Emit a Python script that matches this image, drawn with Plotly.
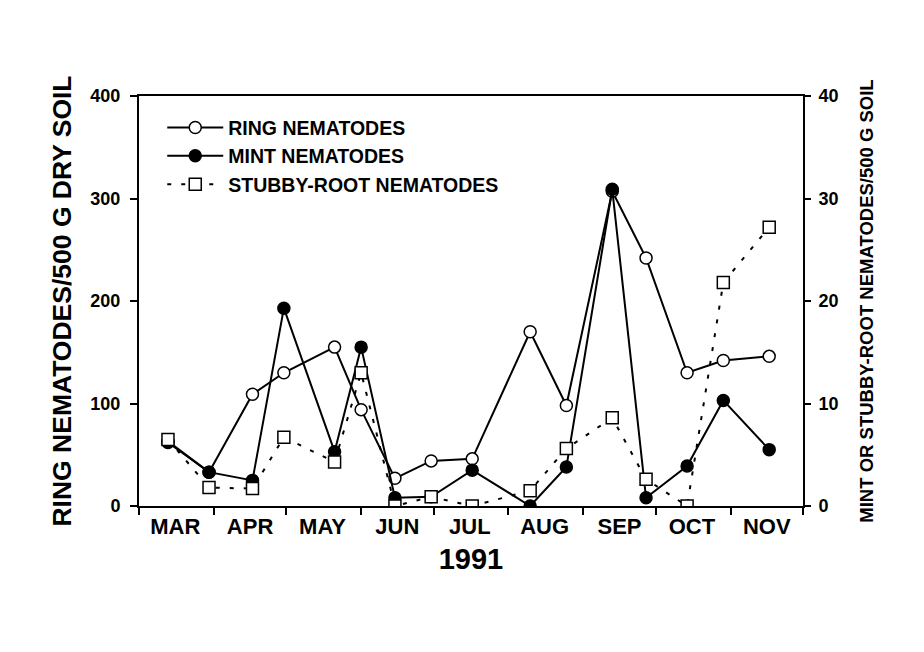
import plotly.graph_objects as go

dates = ["1991-03-13", "1991-03-30", "1991-04-17", "1991-04-30", "1991-05-21",
         "1991-06-01", "1991-06-15", "1991-06-30", "1991-07-17", "1991-08-10",
         "1991-08-25", "1991-09-13", "1991-09-27", "1991-10-14", "1991-10-29",
         "1991-11-17"]
ring = [63, 33, 109, 130, 155, 94, 27, 44, 46, 170, 98, 307, 242, 130, 142, 146]
mint = [6.2, 3.3, 2.5, 19.3, 5.3, 15.5, 0.8, 0.9, 3.5, 0.0, 3.8, 30.9, 0.8, 3.9, 10.3, 5.5]
stubby = [6.5, 1.8, 1.7, 6.7, 4.3, 13.0, 0.0, 0.9, 0.0, 1.5, 5.6, 8.6, 2.6, 0.0, 21.8, 27.2]

month_vals = ["1991-03-16", "1991-04-16", "1991-05-16", "1991-06-16", "1991-07-16",
              "1991-08-16", "1991-09-16", "1991-10-16", "1991-11-16"]
month_text = ["MAR", "APR", "MAY", "JUN", "JUL", "AUG", "SEP", "OCT", "NOV"]

FONT = "Liberation Sans"

fig = go.Figure()
fig.add_trace(go.Scatter(
    x=dates, y=ring, name="RING NEMATODES", mode="lines+markers",
    line=dict(color="black", width=2),
    marker=dict(symbol="circle", size=12, color="white", line=dict(color="black", width=1.5)),
))
fig.add_trace(go.Scatter(
    x=dates, y=mint, name="MINT NEMATODES", mode="lines+markers", yaxis="y2",
    line=dict(color="black", width=2),
    marker=dict(symbol="circle", size=12, color="black", line=dict(color="black", width=1.5)),
))
fig.add_trace(go.Scatter(
    x=dates, y=stubby, name="STUBBY-ROOT NEMATODES", mode="lines+markers", yaxis="y2",
    line=dict(color="black", width=2, dash="4px,10px"),
    marker=dict(symbol="square", size=12, color="white", line=dict(color="black", width=1.5)),
))

fig.update_layout(
    width=924, height=652,
    margin=dict(l=131, r=129, t=88, b=154),
    paper_bgcolor="white", plot_bgcolor="white",
    font=dict(family=FONT, color="black"),
    showlegend=True,
    legend=dict(
        x=0.035, y=0.97, xanchor="left", yanchor="top",
        bgcolor="rgba(0,0,0,0)", borderwidth=0,
        font=dict(family=FONT, size=19.5, color="black", weight="bold"),
        itemwidth=56, tracegroupgap=0,
    ),
    xaxis=dict(
        type="date", range=["1991-03-01", "1991-12-01"],
        tickvals=month_vals, ticktext=month_text, ticks="",
        tickfont=dict(family=FONT, size=22, color="black", weight="bold"),
        minor=dict(dtick="M1", tick0="1991-03-01", ticks="outside", ticklen=7,
                   tickwidth=2, tickcolor="black", showgrid=False),
        showline=True, linecolor="black", linewidth=2, mirror=True,
        showgrid=False, zeroline=False,
        title=dict(text="1991", standoff=10,
                   font=dict(family=FONT, size=29, color="black", weight="bold")),
    ),
    yaxis=dict(
        range=[0, 400], tickvals=[0, 100, 200, 300, 400],
        ticks="outside", ticklen=7, tickwidth=2, tickcolor="black",
        ticklabelstandoff=6,
        tickfont=dict(family=FONT, size=18, color="black", weight="bold"),
        showline=True, linecolor="black", linewidth=2,
        showgrid=False, zeroline=False,
        title=dict(text="RING NEMATODES/500 G DRY SOIL", standoff=11,
                   font=dict(family=FONT, size=26.5, color="black", weight="bold")),
    ),
    yaxis2=dict(
        range=[0, 40], tickvals=[0, 10, 20, 30, 40], overlaying="y", side="right",
        ticks="outside", ticklen=6, tickwidth=2, tickcolor="black",
        ticklabelstandoff=4,
        tickfont=dict(family=FONT, size=18, color="black", weight="bold"),
        showline=True, linecolor="black", linewidth=2,
        showgrid=False, zeroline=False,
        title=dict(text="MINT OR STUBBY-ROOT NEMATODES/500 G SOIL", standoff=22,
                   font=dict(family=FONT, size=18.5, color="black", weight="bold")),
    ),
)

fig.write_html("out.html")
